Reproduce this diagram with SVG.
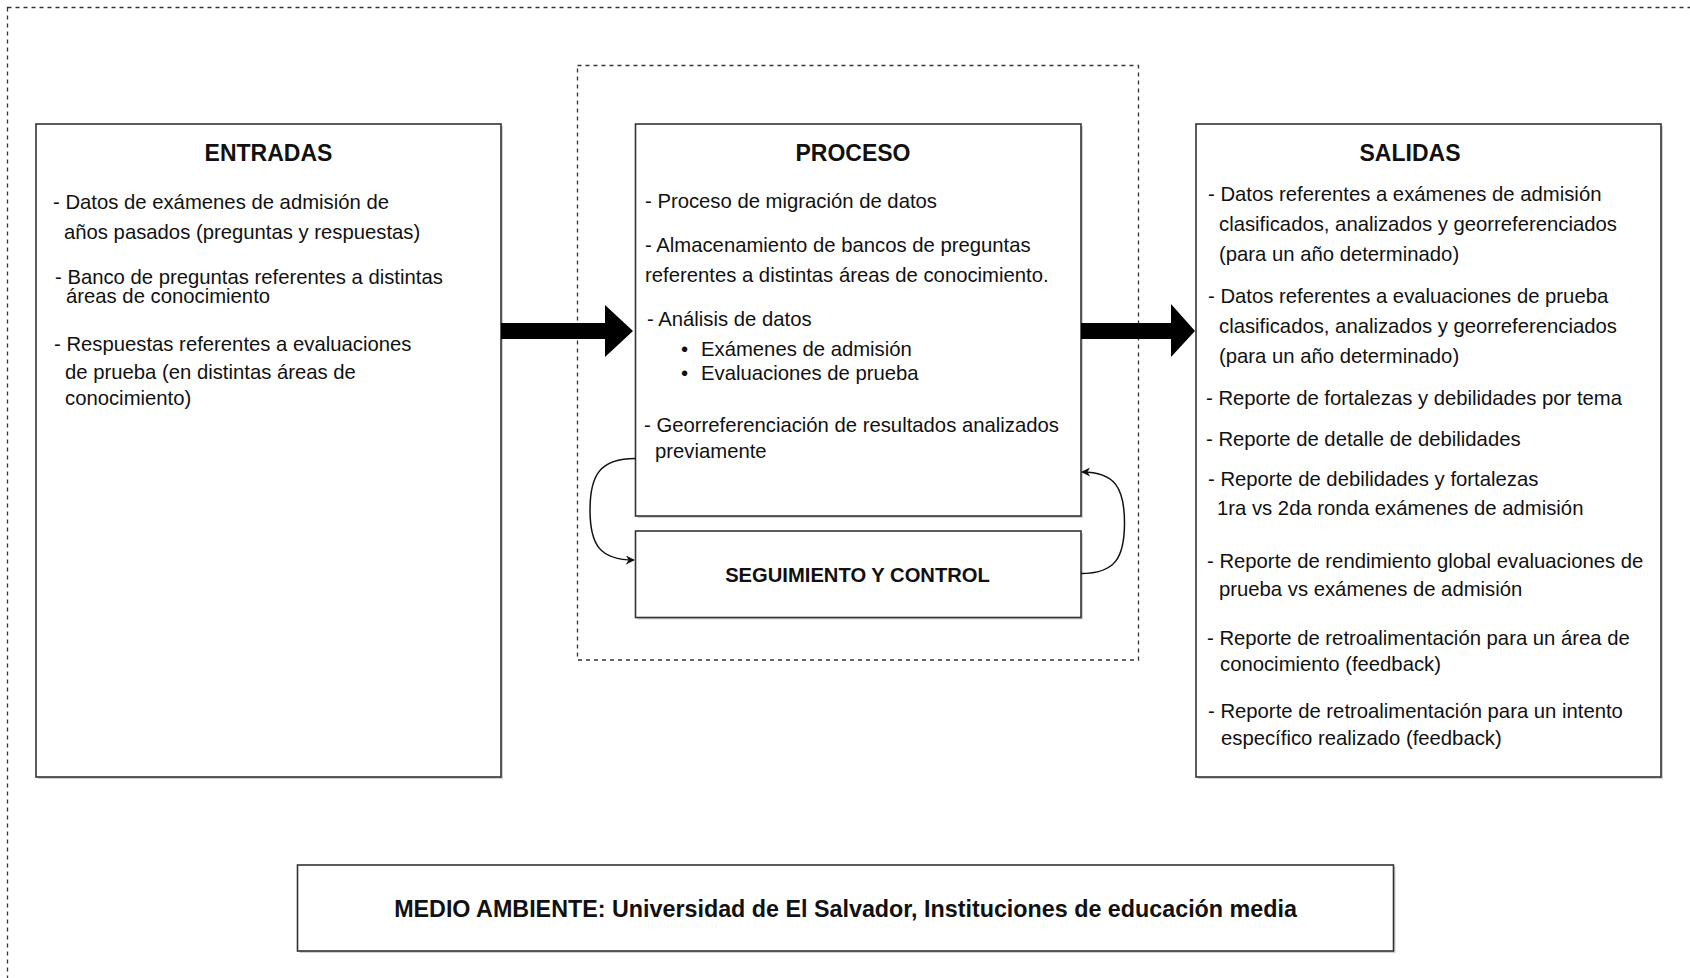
<svg xmlns="http://www.w3.org/2000/svg" width="1690" height="978" viewBox="0 0 1690 978">
  <style>
    text { font-family: "Liberation Sans", Arial, Helvetica, sans-serif; fill: #111; }
    .t { font-size: 20.3px; }
    .h { font-size: 23px; font-weight: bold; text-anchor: middle; }
    .box { fill: #fff; stroke: #333; stroke-width: 1.6; }
    .shadow { fill: #aaa; opacity: 0.55; }
    .dash { fill: none; stroke: #333; stroke-width: 1.3; stroke-dasharray: 4 4; }
    .curve { fill: none; stroke: #111; stroke-width: 1.5; }
    .big { fill: #000; }
  </style>
  <defs>
    <marker id="ah" viewBox="0 0 10 10" refX="9" refY="5" markerWidth="9" markerHeight="9" markerUnits="userSpaceOnUse" orient="auto">
      <path d="M0,0 L10,5 L0,10 L3,5 Z" fill="#111"/>
    </marker>
  </defs>
  <rect width="1690" height="978" fill="#fff"/>

  <g id="outer-boundary">
    <rect class="dash" x="7.5" y="7.5" width="1710" height="1000"/>
  </g>
  <g id="process-boundary">
    <rect class="dash" x="577.5" y="65.5" width="561" height="594.5"/>
  </g>

  <g id="entradas">
    <rect class="shadow" x="38" y="126" width="465" height="653"/>
    <rect class="box" x="36" y="124" width="465" height="653"/>
    <text class="h" x="268.5" y="161">ENTRADAS</text>
    <text class="t" x="53" y="209">- Datos de exámenes de admisión de</text>
    <text class="t" x="64" y="239">años pasados (preguntas y respuestas)</text>
    <text class="t" x="55" y="284">- Banco de preguntas referentes a distintas</text>
    <text class="t" x="66" y="303">áreas de conocimiento</text>
    <text class="t" x="54" y="351">- Respuestas referentes a evaluaciones</text>
    <text class="t" x="65" y="379">de prueba (en distintas áreas de</text>
    <text class="t" x="65" y="405">conocimiento)</text>
  </g>

  <g id="proceso">
    <rect class="shadow" x="637.5" y="126" width="445.5" height="392"/>
    <rect class="box" x="635.5" y="124" width="445.5" height="392"/>
    <text class="h" x="853" y="161">PROCESO</text>
    <text class="t" x="645" y="208">- Proceso de migración de datos</text>
    <text class="t" x="645" y="252">- Almacenamiento de bancos de preguntas</text>
    <text class="t" x="645" y="282">referentes a distintas áreas de conocimiento.</text>
    <text class="t" x="647" y="326">- Análisis de datos</text>
    <text class="t" x="681" y="356">•</text>
    <text class="t" x="701" y="356">Exámenes de admisión</text>
    <text class="t" x="681" y="380">•</text>
    <text class="t" x="701" y="380">Evaluaciones de prueba</text>
    <text class="t" x="644" y="432">- Georreferenciación de resultados analizados</text>
    <text class="t" x="655" y="458">previamente</text>
  </g>

  <g id="seguimiento">
    <rect class="shadow" x="637.5" y="533" width="445.5" height="86.5"/>
    <rect class="box" x="635.5" y="531" width="445.5" height="86.5"/>
    <text class="h" x="857.5" y="582" style="font-size:20.2px">SEGUIMIENTO Y CONTROL</text>
  </g>

  <g id="salidas">
    <rect class="shadow" x="1198" y="126" width="465" height="653"/>
    <rect class="box" x="1196" y="124" width="465" height="653"/>
    <text class="h" x="1410" y="161">SALIDAS</text>
    <text class="t" x="1208" y="201">- Datos referentes a exámenes de admisión</text>
    <text class="t" x="1219" y="231">clasificados, analizados y georreferenciados</text>
    <text class="t" x="1219" y="261">(para un año determinado)</text>
    <text class="t" x="1208" y="303">- Datos referentes a evaluaciones de prueba</text>
    <text class="t" x="1219" y="333">clasificados, analizados y georreferenciados</text>
    <text class="t" x="1219" y="363">(para un año determinado)</text>
    <text class="t" x="1206" y="405">- Reporte de fortalezas y debilidades por tema</text>
    <text class="t" x="1206" y="446">- Reporte de detalle de debilidades</text>
    <text class="t" x="1208" y="486">- Reporte de debilidades y fortalezas</text>
    <text class="t" x="1217" y="515">1ra vs 2da ronda exámenes de admisión</text>
    <text class="t" x="1207" y="568">- Reporte de rendimiento global evaluaciones de</text>
    <text class="t" x="1219" y="596">prueba vs exámenes de admisión</text>
    <text class="t" x="1207" y="645">- Reporte de retroalimentación para un área de</text>
    <text class="t" x="1220" y="671">conocimiento (feedback)</text>
    <text class="t" x="1208" y="718">- Reporte de retroalimentación para un intento</text>
    <text class="t" x="1221" y="745">específico realizado (feedback)</text>
  </g>

  <g id="medio-ambiente">
    <rect class="shadow" x="299.5" y="867" width="1096" height="86"/>
    <rect class="box" x="297.5" y="865" width="1096" height="86"/>
    <text class="h" x="845.5" y="917" style="font-size:23.3px">MEDIO AMBIENTE: Universidad de El Salvador, Instituciones de educación media</text>
  </g>

  <g id="connectors">
    <path class="big" d="M501,323 L605,323 L605,305 L633,331 L605,357 L605,339 L501,339 Z"/>
    <path class="big" d="M1081,323 L1171,323 L1171,304 L1195,331 L1171,357 L1171,339 L1081,339 Z"/>
    <path class="curve" marker-end="url(#ah)" d="M635.5,458.5 C600,458.5 590,475 590,510 C590,545 600,560 634,560"/>
    <path class="curve" marker-end="url(#ah)" d="M1081,573.5 C1115,573.5 1124.5,558 1124.5,523 C1124.5,488 1115,472 1082,472"/>
  </g>
</svg>
